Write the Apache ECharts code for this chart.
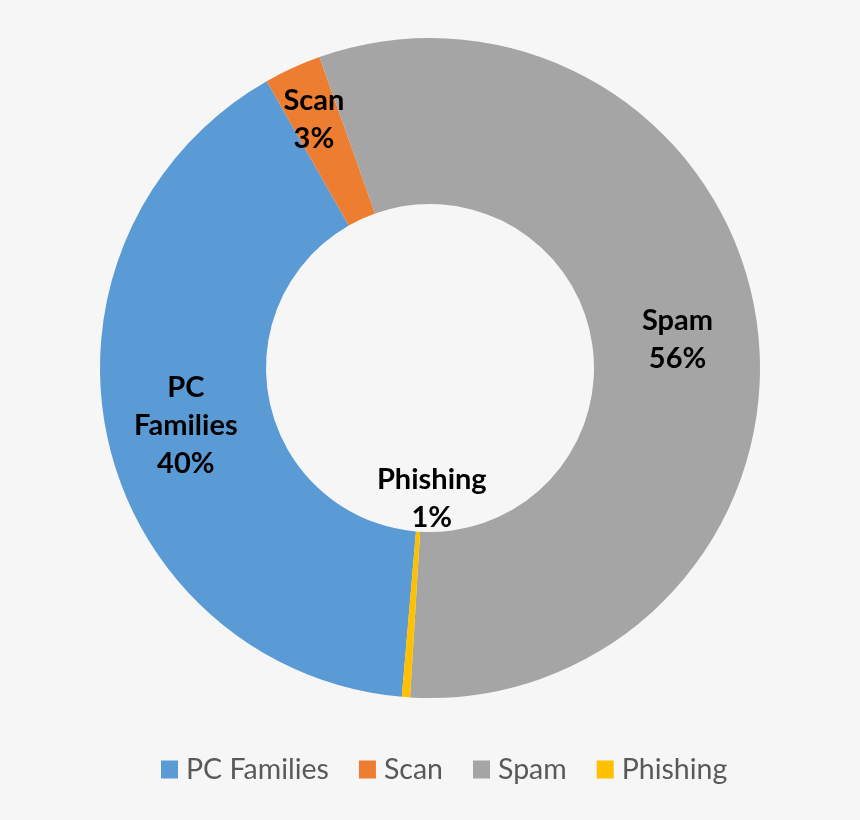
<!DOCTYPE html>
<html>
<head>
<meta charset="utf-8">
<script src="https://cdn.jsdelivr.net/npm/echarts@6/dist/echarts.min.js"></script>
<style>
html,body{margin:0;padding:0;background:#f6f6f6;}
#chart{width:860px;height:820px;}
</style>
</head>
<body>
<div id="chart"></div>
<script>
const categories = ['PC Families', 'Scan', 'Spam', 'Phishing'];
const values = [40.4, 2.8, 56.4, 0.4];
const pctLabels = [40, 3, 56, 1];
const colors = ['#5b9bd5', '#ed7d31', '#a5a5a5', '#ffc000'];

const labelShift = {0: {dx: 0, dy: 4}, 1: {dx: -12, dy: -21}, 2: {dx: 0, dy: 7}, 3: {dx: 20, dy: -119}};

const chart = echarts.init(document.getElementById('chart'), null, {renderer: 'canvas'});
chart.setOption({
  backgroundColor: '#f6f6f6',
  animation: false,
  color: colors,
  legend: {
    data: categories,
    left: 156,
    top: 750,
    icon: 'rect',
    itemWidth: 17,
    itemHeight: 18,
    itemGap: 30,
    textStyle: {fontFamily: 'Lato', fontSize: 28.5, color: '#595959', padding: [0, 0, 0, 3]}
  },
  series: [{
    type: 'pie',
    center: [430, 368],
    radius: [164, 330],
    startAngle: 265.1,
    clockwise: true,
    avoidLabelOverlap: false,
    emphasis: {disabled: true},
    label: {
      show: true,
      position: 'inside',
      fontFamily: 'Lato',
      fontWeight: 'bold',
      fontSize: 29,
      lineHeight: 38,
      color: '#000',
      align: 'center',
      formatter: function (p) {
        return p.name.replace(' ', '\n') + '\n' + pctLabels[p.dataIndex] + '%';
      }
    },
    labelLine: {show: false},
    labelLayout: function (p) {
      return labelShift[p.dataIndex] || {};
    },
    data: categories.map((c, i) => ({name: c, value: values[i]}))
  }]
});
</script>
</body>
</html>
